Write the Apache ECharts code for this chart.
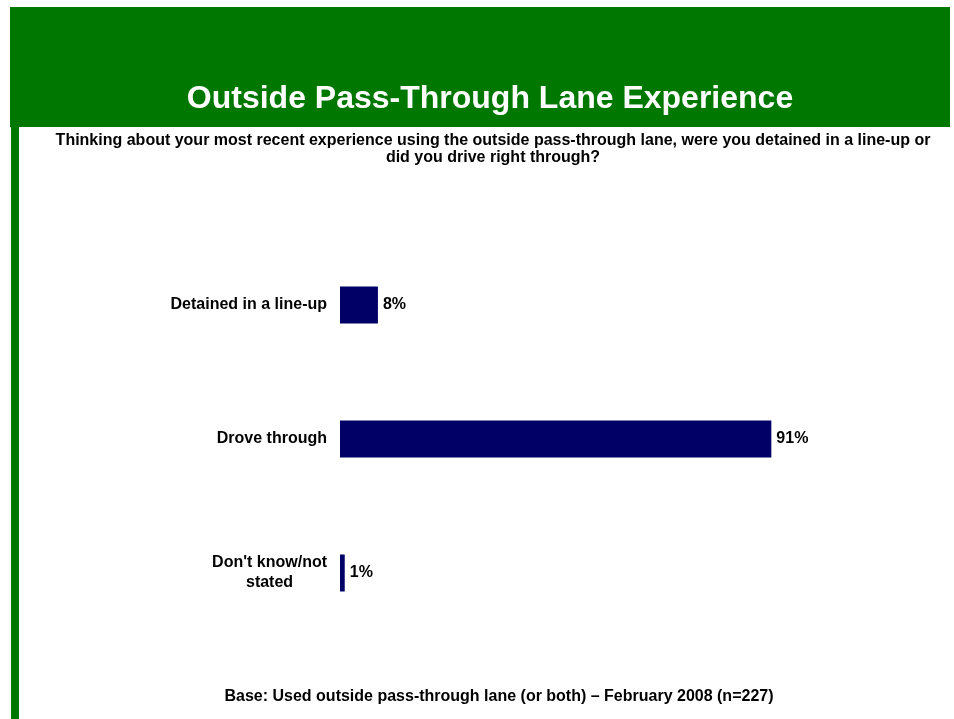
<!DOCTYPE html>
<html>
<head>
<meta charset="utf-8">
<script src="https://cdn.jsdelivr.net/npm/echarts@6/dist/echarts.min.js"></script>
<style>
  html, body { margin: 0; padding: 0; background: #ffffff; }
  #chart { width: 954px; height: 719px; }
</style>
</head>
<body>
<div id="chart"></div>
<script>
// Survey responses (percent of respondents)
const categories = ['Detained in a line-up', 'Drove through', "Don't know/not\nstated"];
const percentages = [8, 91, 1];

const titleText = 'Outside Pass-Through Lane Experience';
const questionText = 'Thinking about your most recent experience using the outside pass-through lane, were you detained in a line-up or\ndid you drive right through?';
const baseText = 'Base: Used outside pass-through lane (or both) \u2013 February 2008 (n=227)';

const FONT = '"Liberation Sans", Arial, sans-serif';
const GREEN = '#007800';
const NAVY = '#000066';
const LABEL_SIZE = 16;

const chart = echarts.init(document.getElementById('chart'), null, { renderer: 'canvas' });

chart.setOption({
  backgroundColor: '#ffffff',
  animation: false,
  graphic: [
    // header band
    { type: 'rect', shape: { x: 10, y: 7, width: 940, height: 120 }, style: { fill: GREEN }, z: 0 },
    // left accent rule
    { type: 'rect', shape: { x: 11, y: 127, width: 8, height: 592 }, style: { fill: GREEN }, z: 0 },
    {
      type: 'text', x: 490, y: 99, z: 2,
      style: { text: titleText, fill: '#ffffff', font: 'bold 32px ' + FONT, align: 'center', verticalAlign: 'middle' }
    },
    {
      type: 'text', x: 493, y: 149, z: 2,
      style: { text: questionText, fill: '#000000', font: 'bold 16px ' + FONT, align: 'center', verticalAlign: 'middle', lineHeight: 17 }
    },
    {
      type: 'text', x: 499, y: 697, z: 2,
      style: { text: baseText, fill: '#000000', font: 'bold 16px ' + FONT, align: 'center', verticalAlign: 'middle' }
    }
  ],
  grid: { left: 340, top: 238, width: 474, height: 402, containLabel: false },
  xAxis: {
    type: 'value', min: 0, max: 100,
    show: false
  },
  yAxis: {
    type: 'category',
    data: categories,
    inverse: true,
    axisLine: { show: false },
    axisTick: { show: false },
    splitLine: { show: false },
    axisLabel: {
      margin: 13,
      color: '#000000',
      fontFamily: FONT,
      fontWeight: 'bold',
      fontSize: LABEL_SIZE,
      lineHeight: 20,
      formatter: function (v) {
        if (v.indexOf('\n') < 0) return v;
        return v.split('\n').map(function (s) { return '{c|' + s + '}'; }).join('\n');
      },
      rich: {
        c: { align: 'center', fontFamily: FONT, fontWeight: 'bold', fontSize: LABEL_SIZE, color: '#000000', lineHeight: 20 }
      }
    }
  },
  series: [{
    type: 'bar',
    data: percentages,
    barWidth: 37,
    itemStyle: { color: NAVY },
    label: {
      show: true,
      position: 'right',
      distance: 5,
      formatter: '{c}%',
      color: '#000000',
      fontFamily: FONT,
      fontWeight: 'bold',
      fontSize: LABEL_SIZE
    }
  }]
});
</script>
</body>
</html>
